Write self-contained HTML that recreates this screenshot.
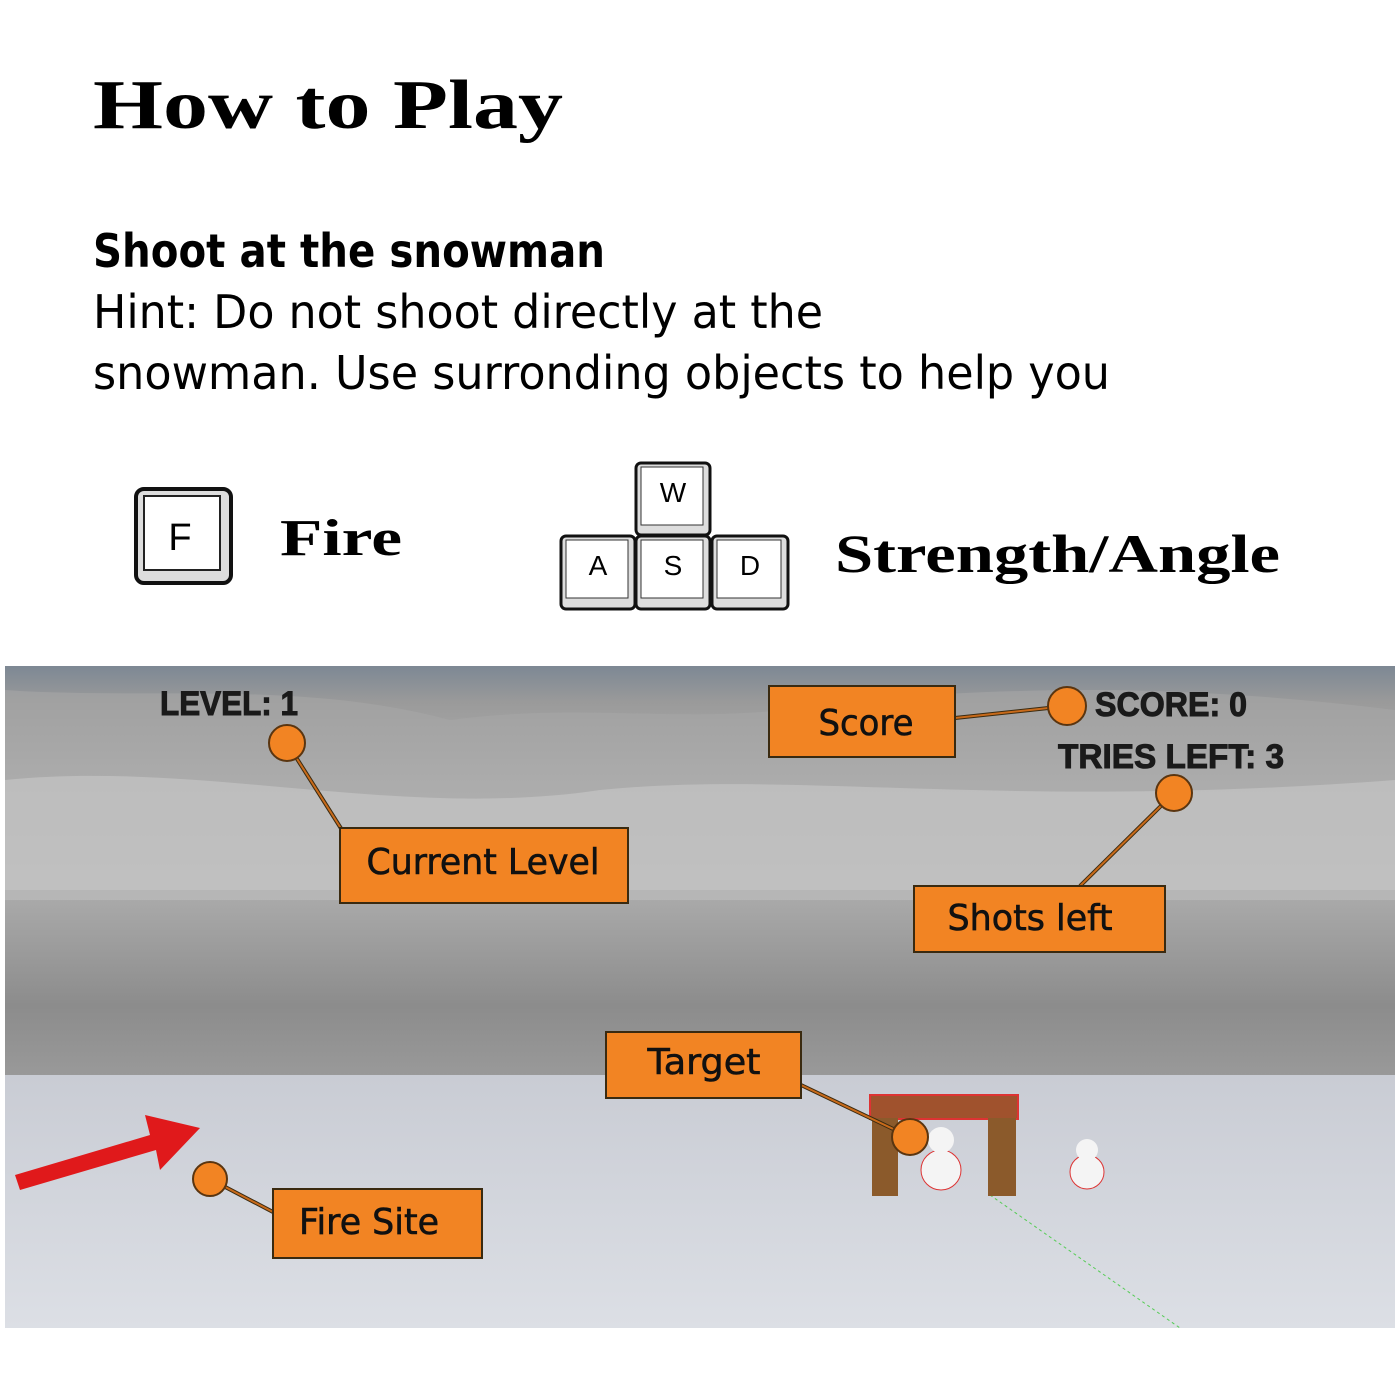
<!DOCTYPE html>
<html><head><meta charset="utf-8">
<style>
html,body{margin:0;padding:0;background:#fff;width:1400px;height:1400px;overflow:hidden}
</style></head>
<body>
<div style="position:relative;width:1400px;height:1400px">
<svg width="1400" height="1400" style="position:absolute;left:0;top:0" xmlns="http://www.w3.org/2000/svg">
<defs>
<linearGradient id="sky" x1="0" y1="0" x2="0" y2="1">
<stop offset="0" stop-color="#7d8894"/><stop offset="0.15" stop-color="#9a9a9a"/><stop offset="0.5" stop-color="#b4b4b4"/><stop offset="1" stop-color="#d0d0d0"/></linearGradient>
<linearGradient id="lake" x1="0" y1="0" x2="0" y2="1">
<stop offset="0" stop-color="#a9a9a9"/><stop offset="0.6" stop-color="#8c8c8c"/><stop offset="1" stop-color="#999"/></linearGradient>
<linearGradient id="snow" x1="0" y1="0" x2="0" y2="1">
<stop offset="0" stop-color="#c9ccd4"/><stop offset="1" stop-color="#dcdfe5"/></linearGradient>
</defs>
<text x="93" y="128" font-family="Liberation Serif" font-weight="900" font-size="70" textLength="470" lengthAdjust="spacingAndGlyphs">How to Play</text>
<text x="93" y="267" font-family="DejaVu Sans" font-weight="bold" font-size="46" textLength="512" lengthAdjust="spacingAndGlyphs">Shoot at the snowman</text>
<text x="93" y="328" font-family="DejaVu Sans" font-size="46" textLength="730" lengthAdjust="spacingAndGlyphs">Hint: Do not shoot directly at the</text>
<text x="93" y="389" font-family="DejaVu Sans" font-size="46" textLength="1017" lengthAdjust="spacingAndGlyphs">snowman. Use surronding objects to help you</text>
<!-- keys -->
<g>
<rect x="136" y="489" width="95" height="94" rx="8" fill="#ddd" stroke="#111" stroke-width="4"/>
<rect x="144" y="496" width="76" height="74" fill="#fff" stroke="#222" stroke-width="2"/>
<text x="180" y="550" font-family="Liberation Sans" font-size="38" text-anchor="middle">F</text></g>
<text x="280" y="555" font-family="Liberation Serif" font-weight="900" font-size="52" textLength="122" lengthAdjust="spacingAndGlyphs">Fire</text>
<g font-family="Liberation Sans" font-size="28" text-anchor="middle">
<rect x="636" y="463" width="74" height="72" rx="5" fill="#ddd" stroke="#111" stroke-width="3"/><rect x="641" y="467" width="62" height="58" fill="#fff" stroke="#333"/><text x="673" y="502">W</text>
<rect x="561" y="536" width="74" height="73" rx="5" fill="#ddd" stroke="#111" stroke-width="3"/><rect x="566" y="540" width="62" height="58" fill="#fff" stroke="#333"/><text x="598" y="575">A</text>
<rect x="636" y="536" width="74" height="73" rx="5" fill="#ddd" stroke="#111" stroke-width="3"/><rect x="641" y="540" width="62" height="58" fill="#fff" stroke="#333"/><text x="673" y="575">S</text>
<rect x="712" y="536" width="76" height="73" rx="5" fill="#ddd" stroke="#111" stroke-width="3"/><rect x="717" y="540" width="64" height="58" fill="#fff" stroke="#333"/><text x="750" y="575">D</text></g>
<text x="835" y="572" font-family="Liberation Serif" font-weight="900" font-size="54" textLength="445" lengthAdjust="spacingAndGlyphs">Strength/Angle</text>

<!-- game screenshot -->
<g>
<rect x="5" y="666" width="1390" height="240" fill="url(#sky)"/>
<path d="M5,690 C150,700 300,680 450,720 C600,700 700,730 850,700 C1000,690 1150,680 1395,710 L1395,900 L5,900Z" fill="#a6a6a6" opacity="0.6"/>
<path d="M5,780 C200,760 400,820 600,790 C800,770 1000,810 1395,780 L1395,890 L5,890Z" fill="#c4c4c4" opacity="0.7"/>
<rect x="5" y="900" width="1390" height="176" fill="url(#lake)"/>
<rect x="5" y="1075" width="1390" height="253" fill="url(#snow)"/>
</g>
<line x1="990" y1="1195" x2="1180" y2="1328" stroke="#5c5" stroke-width="1" stroke-dasharray="3,3"/>
<g font-family="Liberation Sans" font-weight="900" font-size="34" fill="#1a1a1a" stroke="#1a1a1a" stroke-width="1">
<text x="160" y="715" textLength="138" lengthAdjust="spacingAndGlyphs">LEVEL: 1</text>
<text x="1095" y="716" textLength="152" lengthAdjust="spacingAndGlyphs">SCORE: 0</text>
<text x="1058" y="768" textLength="226" lengthAdjust="spacingAndGlyphs">TRIES LEFT: 3</text></g>
<path d="M15,1175 L150,1135 L145,1115 L200,1128 L160,1170 L156,1150 L20,1190Z" fill="#e0191b"/>
<g>
<rect x="870" y="1095" width="148" height="24" fill="#a0522d" stroke="#d33" stroke-width="2"/>
<rect x="872" y="1118" width="26" height="78" fill="#8b5a2b"/>
<rect x="988" y="1118" width="28" height="78" fill="#8b5a2b"/>
</g>
<g>
<circle cx="941" cy="1170" r="20" fill="#f4f4f4" stroke="#d33"/><circle cx="941" cy="1140" r="13" fill="#f4f4f4"/></g>
<g>
<circle cx="1087" cy="1172" r="17" fill="#f4f4f4" stroke="#d33"/><circle cx="1087" cy="1150" r="11" fill="#f4f4f4"/></g>
<g stroke="#3a2a10" stroke-width="4" fill="none">
<line x1="287" y1="743" x2="342" y2="830"/>
<line x1="955" y1="718" x2="1067" y2="706"/>
<line x1="1174" y1="793" x2="1080" y2="886"/>
<line x1="801" y1="1085" x2="910" y2="1137"/>
<line x1="210" y1="1179" x2="273" y2="1212"/>
</g>
<g stroke="#c86a1a" stroke-width="2" fill="none">
<line x1="287" y1="743" x2="342" y2="830"/>
<line x1="955" y1="718" x2="1067" y2="706"/>
<line x1="1174" y1="793" x2="1080" y2="886"/>
<line x1="801" y1="1085" x2="910" y2="1137"/>
<line x1="210" y1="1179" x2="273" y2="1212"/>
</g>
<g fill="#f28423" stroke="#5a3510" stroke-width="2">
<circle cx="287" cy="743" r="18"/>
<circle cx="1067" cy="706" r="19"/>
<circle cx="1174" cy="793" r="18"/>
<circle cx="910" cy="1137" r="18"/>
<circle cx="210" cy="1179" r="17"/>
</g>
<g fill="#f28423" stroke="#3a2a10" stroke-width="2">
<rect x="769" y="686" width="186" height="71"/>
<rect x="340" y="828" width="288" height="75"/>
<rect x="914" y="886" width="251" height="66"/>
<rect x="606" y="1032" width="195" height="66"/>
<rect x="273" y="1189" width="209" height="69"/>
</g>
<g font-family="DejaVu Sans, Liberation Sans, sans-serif" font-size="36" fill="#111" text-anchor="middle" stroke="#111" stroke-width="0.6">
<text x="866" y="735" textLength="95" lengthAdjust="spacingAndGlyphs">Score</text>
<text x="483" y="874" textLength="233" lengthAdjust="spacingAndGlyphs">Current Level</text>
<text x="1030" y="930" textLength="165" lengthAdjust="spacingAndGlyphs">Shots left</text>
<text x="704" y="1074" textLength="113" lengthAdjust="spacingAndGlyphs">Target</text>
<text x="369" y="1234" textLength="140" lengthAdjust="spacingAndGlyphs">Fire Site</text>
</g>
</svg>
</div>
</body></html>
